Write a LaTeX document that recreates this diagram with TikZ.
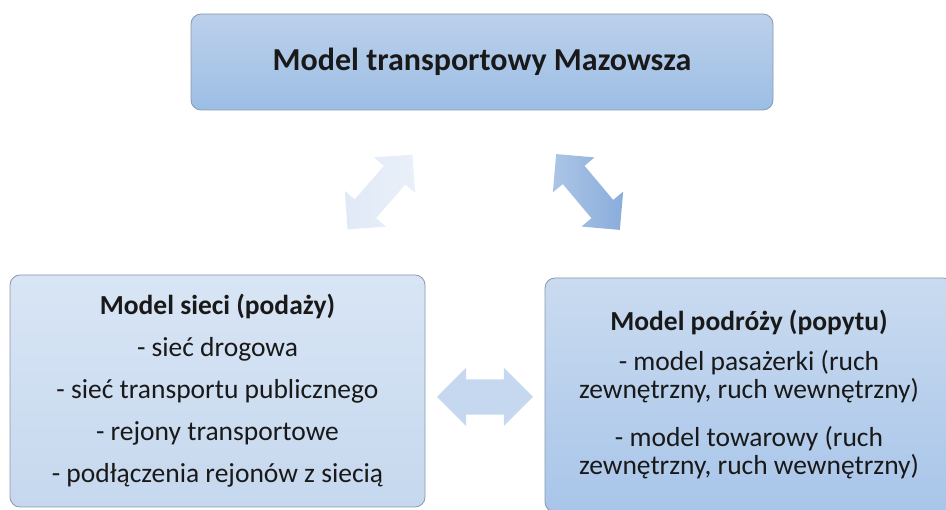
\documentclass[tikz,border=0pt]{standalone}
\usepackage{fontspec}
\setmainfont{Carlito}
\usetikzlibrary{shapes.arrows, calc}
\definecolor{boxline}{RGB}{138,152,172}
\definecolor{txt}{RGB}{25,25,25}
\definecolor{topA}{RGB}{188,208,235}
\definecolor{topB}{RGB}{156,190,229}
\definecolor{supA}{RGB}{216,229,245}
\definecolor{supB}{RGB}{198,216,238}
\definecolor{demA}{RGB}{202,219,240}
\definecolor{demB}{RGB}{168,197,233}
\definecolor{arrPale}{RGB}{224,233,246}
\definecolor{arrPaleB}{RGB}{233,240,249}
\definecolor{arrMid}{RGB}{197,216,239}
\definecolor{arrDarkA}{RGB}{172,197,230}
\definecolor{arrDarkB}{RGB}{137,173,219}

\begin{document}
\begin{tikzpicture}[x=1pt,y=1pt,
  box/.style={draw=boxline, line width=0.8pt, rounded corners=10pt,
    align=center, text=txt, inner sep=0pt},
  link/.style={double arrow, double arrow tip angle=90,
    double arrow head extend=13pt, inner sep=14pt, minimum height=99pt}]
\useasboundingbox (0,0) rectangle (946,510);

%top box
\node[box, top color=topA, bottom color=topB, minimum width=582, minimum height=96,
  font=\fontsize{32}{38}\selectfont\bfseries] (model) at (482,448) {Model transportowy Mazowsza};

%supply side
\node[box, top color=supA, bottom color=supB, minimum width=415, minimum height=232,
  font=\fontsize{27.5}{42}\selectfont] (supply) at (217.5,119)
  {\textbf{Model sieci (podaży)}\\
   - sieć drogowa\\
   - sieć transportu publicznego\\
   - rejony transportowe\\
   - podłączenia rejonów z siecią};

%demand side
\node[box, top color=demA, bottom color=demB, minimum width=408, minimum height=234,
  font=\fontsize{27.5}{28}\selectfont] (demand) at (749,115)
  {\textbf{Model podróży (popytu)}\\[12pt]
   - model pasażerki (ruch\\
   zewnętrzny, ruch wewnętrzny)\\[20pt]
   - model towarowy (ruch\\
   zewnętrzny, ruch wewnętrzny)};

%links
\node[link, rotate=49, left color=arrPale, right color=arrPaleB] (linkL) at (380,318) {};
\node[link, rotate=-50, left color=arrDarkA, right color=arrDarkB] (linkR) at (588,318) {};
\node[link, fill=arrMid, minimum height=96pt, inner sep=17.5pt,
  double arrow head extend=11.5pt] (linkM) at ($(supply.east)!0.5!(demand.west)+(0,-4)$) {};
\end{tikzpicture}
\end{document}
